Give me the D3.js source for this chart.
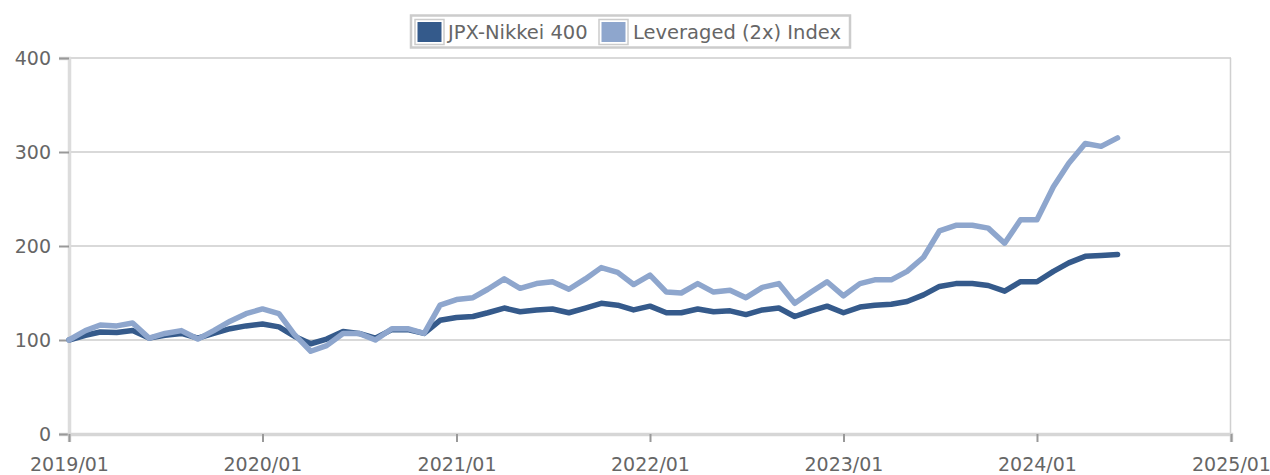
<!DOCTYPE html>
<html>
<head>
<meta charset="utf-8">
<script src="https://cdn.jsdelivr.net/npm/d3@7"></script>
<style>
  html, body { margin: 0; padding: 0; background: #fff; }
  svg { display: block; font-family: "DejaVu Sans", sans-serif; }
</style>
</head>
<body>
<svg id="chart" width="1270" height="475"></svg>
<script>
// ---- Data ----
const months = d3.range(66).map(i => d3.timeMonth.offset(new Date(2019, 0, 1), i));
const jpxNikkei400 = [
  100,105,108.5,108,110,102,105,107,102,107,112,115,
  117,114,104,96,101,109,107,102,111,111,107,121,
  124,125,129,134,130,132,133,129,134,139,137,132,
  136,129,129,133,130,131,127,132,134,125,131,136,
  129,135,137,138,141,148,157,160,160,158,152,162,
  162,173,182,189,190,191
];
const leveraged2x = [
  100,110,116,115,118,102,107,110,101,110,120,128,
  133,128,106,88,94,107,107,100,112,112,107,137,
  143,145,154,165,155,160,162,154,165,177,172,159,
  169,151,150,160,151,153,145,156,160,139,151,162,
  147,160,164,164,173,188,216,222,222,219,203,228,
  228,263,288,309,306,315
];
const seriesNames = ["JPX-Nikkei 400", "Leveraged (2x) Index"];
const seriesColors = ["#345a8b", "#8ea6cd"];
const yTicks = [0, 100, 200, 300, 400];
const xTickLabels = ["2019/01","2020/01","2021/01","2022/01","2023/01","2024/01","2025/01"];

// ---- Layout ----
const svg = d3.select("#chart");
const mLeft = 69, mRight = 1231, mTop = 58, mBottom = 434;

const x = d3.scaleTime()
  .domain([new Date(2019, 0, 1), new Date(2025, 0, 1)])
  .range([mLeft, mRight]);
const y = d3.scaleLinear().domain([0, 400]).range([mBottom, mTop]);

const defs = svg.append("defs");
const f = defs.append("filter").attr("id", "soft").attr("x", "-5%").attr("y", "-20%").attr("width", "110%").attr("height", "140%");
f.append("feGaussianBlur").attr("stdDeviation", 0.6);

// gridlines
svg.append("g").selectAll("line").data(yTicks.filter(d => d > 0)).join("line")
  .attr("x1", mLeft).attr("x2", mRight)
  .attr("y1", d => y(d)).attr("y2", d => y(d))
  .attr("stroke", "#cccccc").attr("stroke-width", 1.6);

// right border
svg.append("line").attr("x1", mRight - 0.5).attr("x2", mRight - 0.5).attr("y1", mTop).attr("y2", mBottom)
  .attr("stroke", "#d0d0d0").attr("stroke-width", 1.5);

// left axis
const yAxis = d3.axisLeft(y).tickValues(yTicks).tickSize(10).tickPadding(8);
const gy = svg.append("g").attr("transform", `translate(${mLeft},0)`).call(yAxis);
gy.select(".domain").attr("stroke", "#dcdcdc").attr("stroke-width", 3.5);
gy.selectAll(".tick line").attr("stroke", "#999").attr("stroke-width", 2);
gy.selectAll(".tick text").attr("fill", "#666").attr("font-size", "19px")
  .attr("font-family", "DejaVu Sans");

// bottom axis
const xAxis = d3.axisBottom(x)
  .tickValues(xTickLabels.map(s => d3.timeParse("%Y/%m")(s)))
  .tickFormat(d3.timeFormat("%Y/%m"))
  .tickSize(8).tickPadding(16);
const gx = svg.append("g").attr("transform", `translate(0,${mBottom})`).call(xAxis);
gx.select(".domain").attr("stroke", "#d6d6d6").attr("stroke-width", 3.5);
gx.selectAll(".tick line").attr("stroke", "#999").attr("stroke-width", 2);
gx.selectAll(".tick text").attr("fill", "#666").attr("font-size", "19px")
  .attr("font-family", "DejaVu Sans");

// lines (dark first, light drawn over it as in the reference)
const line = d3.line().x((d, i) => x(months[i])).y(d => y(d));
[[jpxNikkei400, seriesColors[0]], [leveraged2x, seriesColors[1]]].forEach(([vals, col]) => {
  svg.append("path").datum(vals)
    .attr("d", line)
    .attr("fill", "none")
    .attr("stroke", col)
    .attr("stroke-width", 5.5)
    .attr("stroke-linejoin", "round")
    .attr("stroke-linecap", "round")
    .attr("filter", "url(#soft)");
});

// legend
const lg = svg.append("g");
lg.append("rect").attr("x", 411).attr("y", 15.5).attr("width", 439).attr("height", 32)
  .attr("fill", "#fff").attr("stroke", "#cccccc").attr("stroke-width", 2.5);
const items = [
  { name: seriesNames[0], color: seriesColors[0], sx: 415, tx: 448 },
  { name: seriesNames[1], color: seriesColors[1], sx: 599, tx: 633 }
];
items.forEach(it => {
  lg.append("rect").attr("x", it.sx).attr("y", 19.5).attr("width", 29).attr("height", 25)
    .attr("fill", "#fff").attr("stroke", "#cccccc").attr("stroke-width", 1.5);
  lg.append("rect").attr("x", it.sx + 2.5).attr("y", 22).attr("width", 24).attr("height", 20)
    .attr("fill", it.color);
  lg.append("text").attr("x", it.tx).attr("y", 39)
    .attr("fill", "#666").attr("font-size", "19.5px").attr("font-family", "DejaVu Sans")
    .text(it.name);
});
</script>
</body>
</html>
